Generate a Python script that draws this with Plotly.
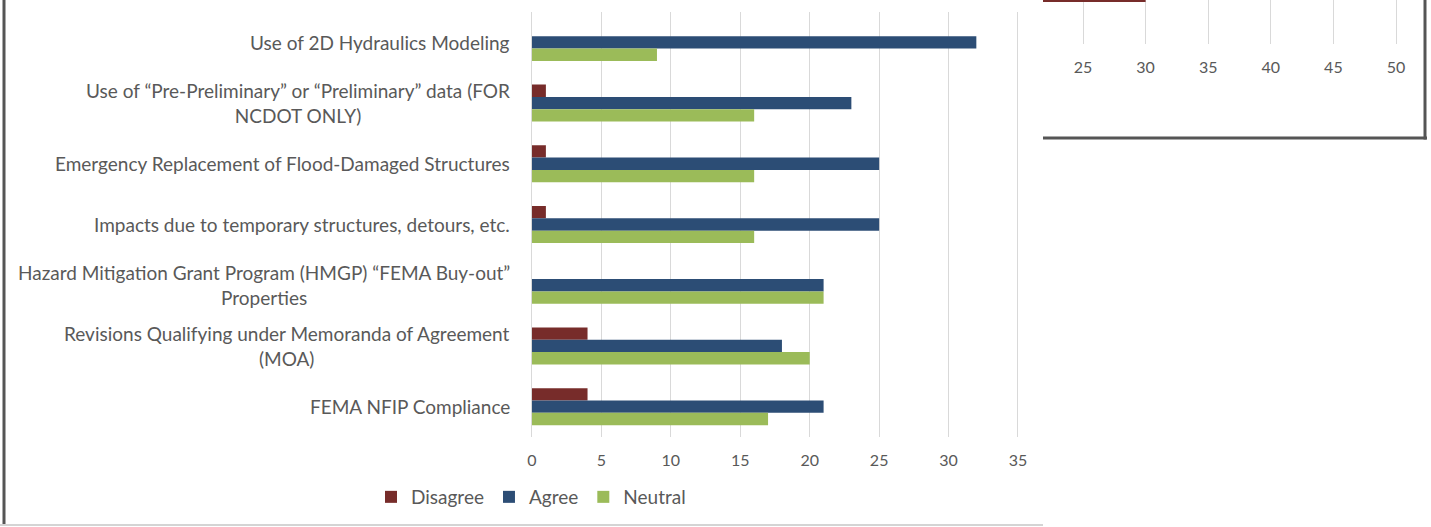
import plotly.graph_objects as go

W, H = 1431, 527

categories = [
    "Use of 2D Hydraulics Modeling",
    "Use of “Pre-Preliminary” or “Preliminary” data (FOR<br>NCDOT ONLY)",
    "Emergency Replacement of Flood-Damaged Structures",
    "Impacts due to temporary structures, detours, etc.",
    "Hazard Mitigation Grant Program (HMGP) “FEMA Buy-out”<br>Properties",
    "Revisions Qualifying under Memoranda of Agreement<br>(MOA)",
    "FEMA NFIP Compliance",
]
disagree = [0, 1, 1, 1, 0, 4, 4]
agree = [32, 23, 25, 25, 21, 18, 21]
neutral = [9, 16, 16, 16, 21, 20, 17]

x_ticks = [0, 5, 10, 15, 20, 25, 30, 35]

# fragment of the neighbouring chart (top right)
frag_category = [0]
frag_disagree = [30]
frag_ticks = [25, 30, 35, 40, 45, 50]

colors = {"Disagree": "#772C2A", "Agree": "#2C4D75", "Neutral": "#9BBB59"}
FONT = "Lato"
GRAY = "#595959"
GRID = "#D9D9D9"

def px_x(p):
    return p / W

def px_y(p):
    return 1 - p / H

fig = go.Figure()
cat_ids = list(range(len(categories)))
for name, vals in [("Disagree", disagree), ("Agree", agree), ("Neutral", neutral)]:
    fig.add_trace(go.Bar(
        name=name, x=vals, y=cat_ids, orientation="h",
        marker=dict(color=colors[name], line=dict(width=0)),
        xaxis="x", yaxis="y", hoverinfo="skip",
    ))

fig.add_trace(go.Bar(
    name="Disagree", x=frag_disagree, y=frag_category, orientation="h",
    marker=dict(color=colors["Disagree"], line=dict(width=0)),
    xaxis="x2", yaxis="y2", showlegend=False, width=0.8, hoverinfo="skip",
))

# main axis geometry: 0 at x=532px, 35 at x=1018px
ppu = (1018 - 532) / 35.0
x_lo, x_hi = -0.6, 35.6
dom_l = 532 + x_lo * ppu
dom_r = 532 + x_hi * ppu

# fragment axis: 25 at 1083px, 50 at 1396px
ppu2 = (1396 - 1083) / 25.0
f_l, f_r = 1043, 1424
r2_lo = 25 - (1083 - f_l) / ppu2
r2_hi = 50 + (f_r - 1396) / ppu2

fig.update_layout(
    width=W, height=H,
    margin=dict(l=0, r=0, t=0, b=0),
    paper_bgcolor="white", plot_bgcolor="white",
    barmode="group", bargap=0.39, bargroupgap=0,
    font=dict(family=FONT, color=GRAY),
    showlegend=True,
    legend=dict(
        orientation="h", x=px_x(531), xanchor="center", y=px_y(497), yanchor="middle",
        font=dict(size=19, color=GRAY, family=FONT), traceorder="normal",
    ),
    xaxis=dict(
        domain=[px_x(dom_l), px_x(dom_r)], range=[x_lo, x_hi],
        tickvals=x_ticks, showgrid=True, gridcolor=GRID, gridwidth=1,
        zeroline=False, showline=False, ticks="",
        tickfont=dict(size=16, color=GRAY, family=FONT), ticklabelstandoff=12,
        anchor="y", fixedrange=True,
    ),
    yaxis=dict(
        domain=[px_y(437), px_y(12)], range=[6.5, -0.5],
        showticklabels=False, showgrid=False, zeroline=False, showline=False,
        anchor="x", fixedrange=True,
    ),
    xaxis2=dict(
        domain=[px_x(f_l), px_x(f_r)], range=[r2_lo, r2_hi],
        tickvals=frag_ticks, showgrid=True, gridcolor=GRID, gridwidth=1,
        zeroline=False, showline=False, ticks="",
        tickfont=dict(size=16, color=GRAY, family=FONT), ticklabelstandoff=12,
        anchor="y2", fixedrange=True,
    ),
    yaxis2=dict(
        domain=[px_y(44), 1], range=[-1.5, -0.35],
        showticklabels=False, showgrid=False, zeroline=False, showline=False,
        anchor="x2", fixedrange=True,
    ),
)

for i, c in enumerate(categories):
    fig.add_annotation(
        text=c, xref="paper", yref="y", x=px_x(512), y=i,
        xanchor="right", yanchor="middle", align="center", showarrow=False,
        font=dict(size=19, color=GRAY, family=FONT),
    )

# chart frames
fig.add_shape(type="line", xref="paper", yref="paper", x0=px_x(4), x1=px_x(4), y0=px_y(525), y1=1,
              line=dict(color="#555555", width=3))
fig.add_shape(type="line", xref="paper", yref="paper", x0=0, x1=px_x(1043), y0=px_y(525), y1=px_y(525),
              line=dict(color="#D4D4D4", width=2))
fig.add_shape(type="line", xref="paper", yref="paper", x0=px_x(1043), x1=px_x(1427), y0=px_y(138), y1=px_y(138),
              line=dict(color="#555555", width=3))
fig.add_shape(type="line", xref="paper", yref="paper", x0=px_x(1425), x1=px_x(1425), y0=px_y(139.5), y1=1,
              line=dict(color="#555555", width=3))

fig.write_html(
    "out.html",
    config={"displayModeBar": False, "staticPlot": True},
    post_script="document.body.style.margin='0';document.body.style.overflow='hidden';",
)
